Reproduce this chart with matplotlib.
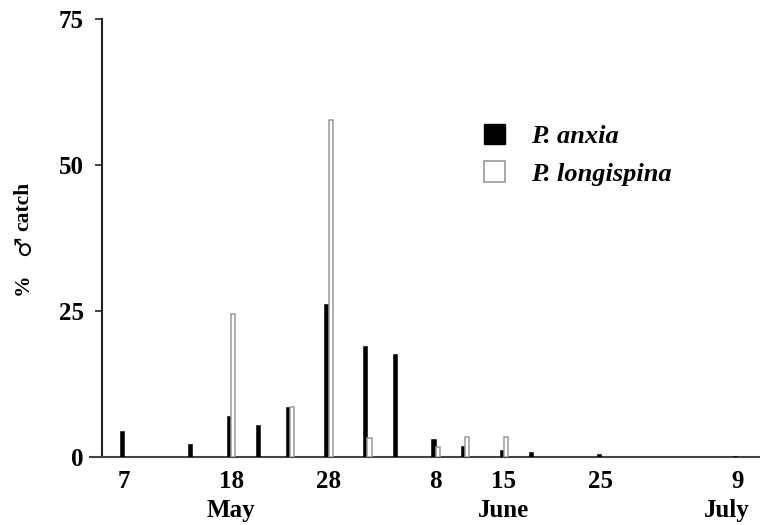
import matplotlib
matplotlib.use("Agg")
import matplotlib.pyplot as plt
from matplotlib.patches import Patch
import matplotlib.transforms as mtransforms
import numpy as np

# Day numbers counted from 1 May (May 7 = 7, June 8 = 39, July 9 = 70)
days = [7, 14, 18, 21, 24, 28, 32, 35, 39, 42, 46, 49, 56, 70]
anxia = [4.5, 2.2, 7.1, 5.4, 8.6, 26.2, 19.0, 17.7, 3.1, 1.8, 1.2, 0.9, 0.45, 0.2]
longispina = [0, 0, 24.5, 0, 8.6, 57.7, 3.3, 0, 1.7, 3.4, 3.4, 0, 0, 0]

tick_days = [7, 18, 28, 39, 46, 56, 70]
tick_labels = ["7", "18", "28", "8", "15", "25", "9"]
months = ["May", "June", "July"]
month_pos = [18, 46, 68.9]
yticks = [0, 25, 50, 75]
series_names = ["P. anxia", "P. longispina"]

plt.rcParams['font.family'] = ['Liberation Serif', 'DejaVu Serif']

fig = plt.figure(figsize=(7.6, 5.25), dpi=100)
ax = fig.add_axes([90/760, 68/525, 670/760, 438/525])

d = np.array(days, dtype=float)
w = 0.42
ax.bar(d - w/2, anxia, width=w, color='black', edgecolor='black', linewidth=0.4, zorder=3)
lmask = np.array(longispina) > 0
ax.bar(d[lmask] + w/2, np.array(longispina)[lmask], width=w, color='white',
       edgecolor='#9a9a9a', linewidth=1.1, zorder=3)

ax.set_xlim(3.49, 72.34)
ax.set_ylim(0, 75)

for s in ['top', 'right']:
    ax.spines[s].set_visible(False)
ax.spines['left'].set_position(('data', 4.72))
ax.spines['left'].set_linewidth(1.5)
ax.spines['bottom'].set_linewidth(1.5)
ax.spines['left'].set_color('#222222')
ax.spines['bottom'].set_color('#444444')

ax.set_yticks(yticks)
ax.set_yticklabels([str(v) for v in yticks], fontsize=18, fontweight='bold')
ax.tick_params(axis='y', length=5, width=1.2, pad=8, colors='#222222', labelcolor='black')

ax.set_xticks(tick_days)
ax.set_xticklabels(tick_labels, fontsize=18, fontweight='bold')
ax.tick_params(axis='x', length=0, pad=9)

trans = mtransforms.blended_transform_factory(ax.transData, fig.transFigure)
for m, x in zip(months, month_pos):
    ax.text(x, 1 - 499/525, m, transform=trans, ha='center', va='top',
            fontsize=18, fontweight='bold')

# y label built from pieces so the male sign keeps a thin glyph
fig.text(23/760, 1 - 284/525, "%", rotation=90, ha='center', va='center',
         fontsize=15.5, fontweight='bold')
fig.text(24/760, 1 - 246/525, "\u2642", rotation=90, ha='center', va='center',
         fontsize=16.5, fontweight='normal', family=['DejaVu Sans'])
fig.text(23/760, 1 - 206/525, "catch", rotation=90, ha='center', va='center',
         fontsize=15.5, fontweight='bold')

handles = [Patch(facecolor='black', edgecolor='black'),
           Patch(facecolor='white', edgecolor='#9a9a9a', linewidth=1.2)]
leg = ax.legend(handles, series_names, loc='upper left', bbox_to_anchor=(484/760, 1 - 124/525),
                bbox_transform=fig.transFigure, frameon=False, borderpad=0, borderaxespad=0,
                prop={'size': 19, 'weight': 'bold', 'style': 'italic'},
                handlelength=0.8, handleheight=0.8, handletextpad=1.0, labelspacing=0.5)

fig.savefig("out.png", dpi=100)
